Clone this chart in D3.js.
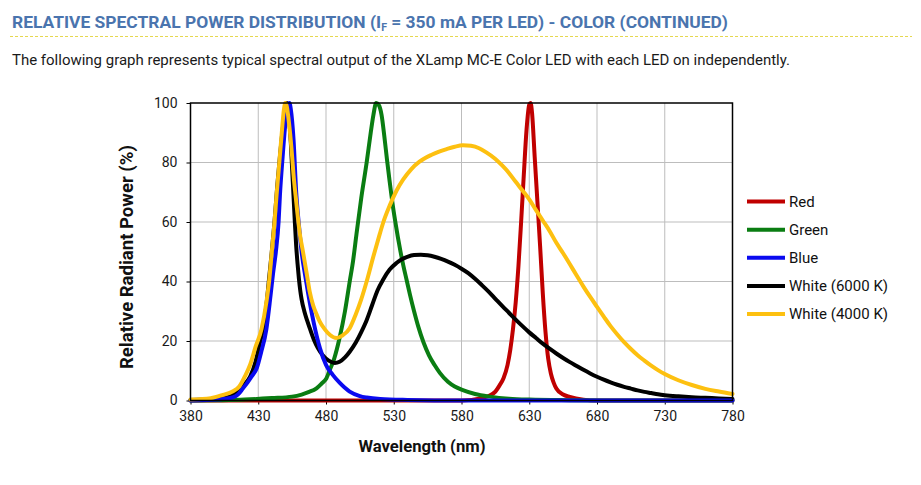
<!DOCTYPE html>
<html>
<head>
<meta charset="utf-8">
<script src="https://cdn.jsdelivr.net/npm/d3@7"></script>
<style>
  html, body { margin: 0; padding: 0; background: #fff; }
  svg { display: block; font-family: Roboto, "Noto Sans", sans-serif; }
</style>
</head>
<body>
<svg id="chart" width="921" height="485"></svg>
<script>
// ---------- data ----------
const xTicks = [380, 430, 480, 530, 580, 630, 680, 730, 780];
const yTicks = [0, 20, 40, 60, 80, 100];
const seriesNames = ["Red", "Green", "Blue", "White (6000 K)", "White (4000 K)"];
const seriesColors = ["#C00000", "#0A7D12", "#0A0AF0", "#000000", "#FDC010"];

const red = [[380,0],[580,0],[595,0.8],[600,1.5],[605,3],[608,5],[611,7.5],[614,12],[616,17],[618,24],[620,33],[622,45],[624,60],[626,76],[628,91],[630,99.5],[631,100],[632,97],[634,82],[636,67],[638,52],[640,36],[642,23],[644,14],[646,9],[648,6],[650,4],[655,2],[660,1.2],[670,0.3],[680,0],[780,0]];

const green = [[380,0],[400,0.1],[420,0.3],[440,0.8],[455,1.3],[462,2],[467,2.8],[473,4.1],[477,5.8],[480,7.2],[483,10.5],[486,14],[490,21],[494,30],[497.5,40],[500,47],[502.5,56],[506,68],[510,80],[513,90],[515,96],[517,100],[519,99.3],[521,96],[523,89],[525,81],[527,73.5],[529,66.5],[531,60.5],[533,55],[535,50],[537,45.5],[539.5,40.5],[542,35.5],[545,30],[548,25],[552,19.5],[556,15.2],[560,12],[564,9.3],[570,6.3],[575,4.7],[581,3.5],[590,2.2],[601,1.3],[615,0.6],[630,0.3],[660,0.1],[700,0],[780,0]];

const blue = [[380,0],[400,0.3],[405,0.6],[411,1],[415,2],[418.6,4],[422,6],[425,8],[429,11],[432,16],[436,24],[439,35],[441,43],[443,50],[445,60],[446,69],[448,82],[450,93],[452,99],[453,100],[454,98],[456,88],[458,70],[460,59],[462,50],[465,41],[468,33],[471,26],[475.5,17.6],[480,12],[485,8.6],[490,6],[497.5,3],[505,1.5],[510,1],[520,0.5],[540,0.2],[580,0],[780,0]];

const white6000 = [[380,0.2],[395,0.4],[405,0.8],[413,2.5],[419,5],[424,8],[428,13],[431,19],[433.5,24],[436,32],[438,41],[440,50],[442,60],[444,72],[446,82],[448,91],[450,98],[451,100],[452,99],[453,94],[454,87],[455,78],[456,69],[457,60],[458,52],[459,46],[460,41],[461,37],[462,34],[464,30],[466,27],[468,24.3],[471,20.5],[474,17.6],[477.6,15.2],[482,13.4],[486.5,12.6],[490,13],[494,14.5],[497.5,16.4],[502,19.5],[506,23],[510,27],[514,32],[518,37],[522,40.5],[527,44],[532,46.2],[536,47.5],[540,48.3],[545,48.9],[550,49],[555,48.8],[560,48.3],[565,47.6],[570,46.7],[575,45.6],[580,44.3],[585,42.8],[590,40.9],[595,38.8],[600,36.6],[605,34.2],[610,31.8],[615,29.5],[620,27.2],[625,25],[630,22.9],[635,21],[640,19.1],[645,17.4],[650,15.8],[655,14.3],[660,12.9],[665,11.6],[670,10.3],[675,9.1],[680,8],[685,7],[690,6.1],[695,5.3],[700,4.6],[705,4],[710,3.4],[715,2.9],[720,2.5],[725,2.1],[730,1.8],[740,1.4],[750,1.1],[760,0.9],[770,0.7],[780,0.5]];

const white4000 = [[380,0.3],[395,0.8],[404,1.9],[411,3],[416,4.7],[420,8],[424,12],[428,18],[432.4,24],[436,33],[438,40],[440,50],[442,60],[443.5,69],[445,77],[447,88],[449,98],[450,100],[451,99],[453,92],[455,82],[456,76],[458,67],[460.7,56],[463,50],[466,42],[468,36.5],[470.5,32],[473,29],[475.4,26.5],[479,24],[483,22],[487.7,21],[492,21.8],[497.5,24.3],[502,29],[506,34],[510,40],[515,48.5],[519.7,56],[522,59.5],[527,65.5],[532,70.5],[537,74.3],[543,77.8],[549,80.3],[552,81.2],[558,82.6],[563,83.6],[569,84.5],[575,85.3],[581,85.8],[587,85.6],[593,84.8],[598,83.5],[605,81.2],[610,79],[615,76.5],[620,73.5],[625,70.6],[630,67.6],[635,64],[640,60.5],[645,57],[650,53],[655,49.5],[660,45.8],[665,42],[670,38.3],[675,34.8],[680,31.5],[685,28.2],[690,25],[695,22.2],[700,19.6],[705,17.3],[710,15.2],[715,13.4],[720,11.7],[725,10.2],[730,8.9],[740,6.8],[750,5.2],[760,3.9],[770,3],[780,2.2]];

const seriesData = [red, green, blue, white6000, white4000];
const drawOrder = [0, 1, 3, 2, 4];

// ---------- layout ----------
const svg = d3.select("#chart");
const plot = { left: 190.5, right: 732.5, top: 103, bottom: 400.5 };

const x = d3.scaleLinear().domain([380, 780]).range([plot.left, plot.right]);
const y = d3.scaleLinear().domain([0, 100]).range([plot.bottom, plot.top]);

// Title
const title = svg.append("text")
  .attr("x", 12).attr("y", 28)
  .attr("fill", "#4A74AE")
  .attr("font-weight", "bold")
  .attr("font-size", 16.5)
  .attr("textLength", 716)
  .attr("lengthAdjust", "spacingAndGlyphs");
title.append("tspan").text("RELATIVE SPECTRAL POWER DISTRIBUTION (I");
title.append("tspan").attr("font-size", 10).attr("dy", 3).text("F");
title.append("tspan").attr("dy", -3).text(" = 350 mA PER LED) - COLOR (CONTINUED)");

svg.append("line")
  .attr("x1", 10).attr("x2", 912).attr("y1", 36.5).attr("y2", 36.5)
  .attr("stroke", "#E6D84E").attr("stroke-width", 1)
  .attr("stroke-dasharray", "3,2");

svg.append("text")
  .attr("x", 12).attr("y", 65)
  .attr("fill", "#1a1a1a")
  .attr("font-size", 14)
  .attr("textLength", 778)
  .attr("lengthAdjust", "spacingAndGlyphs")
  .text("The following graph represents typical spectral output of the XLamp MC-E Color LED with each LED on independently.");

// Grid
const grid = svg.append("g");
grid.selectAll("line.v").data(xTicks.slice(1, -1)).join("line")
  .attr("x1", d => x(d)).attr("x2", d => x(d))
  .attr("y1", plot.top).attr("y2", plot.bottom)
  .attr("stroke", "#BDBDBD").attr("stroke-width", 1);
grid.selectAll("line.h").data(yTicks.slice(1, -1)).join("line")
  .attr("x1", plot.left).attr("x2", plot.right)
  .attr("y1", d => y(d)).attr("y2", d => y(d))
  .attr("stroke", "#BDBDBD").attr("stroke-width", 1);

// Axes
const xAxis = svg.append("g")
  .attr("transform", `translate(0,${plot.bottom})`)
  .call(d3.axisBottom(x).tickValues(xTicks).tickSize(4).tickSizeOuter(0).tickPadding(7));
const yAxis = svg.append("g")
  .attr("transform", `translate(${plot.left},0)`)
  .call(d3.axisLeft(y).tickValues(yTicks).tickSize(4).tickSizeOuter(0).tickPadding(9));
[xAxis, yAxis].forEach(a => {
  a.select(".domain").remove();
  a.selectAll(".tick line").attr("stroke", "#000").attr("stroke-width", 1);
  a.selectAll(".tick text").attr("fill", "#1a1a1a").attr("font-size", 14)
    .attr("font-family", "Roboto, 'Noto Sans', sans-serif");
});

// Series lines
const line = d3.line().x(d => x(d[0])).y(d => y(d[1])).curve(d3.curveMonotoneX);
const lines = svg.append("g").attr("fill", "none")
  .attr("stroke-linejoin", "round").attr("stroke-linecap", "round");
drawOrder.forEach(i => {
  lines.append("path")
    .datum(seriesData[i])
    .attr("d", line)
    .attr("stroke", seriesColors[i])
    .attr("stroke-width", 4);
});

// Plot border
svg.append("rect")
  .attr("x", plot.left).attr("y", plot.top)
  .attr("width", plot.right - plot.left).attr("height", plot.bottom - plot.top)
  .attr("fill", "none").attr("stroke", "#000").attr("stroke-width", 1.5);

// Axis titles
svg.append("text")
  .attr("transform", `translate(133,257) rotate(-90)`)
  .attr("text-anchor", "middle")
  .attr("font-weight", "bold").attr("font-size", 18)
  .attr("fill", "#111")
  .attr("textLength", 224)
  .attr("lengthAdjust", "spacingAndGlyphs")
  .text("Relative Radiant Power (%)");
svg.append("text")
  .attr("x", 422).attr("y", 452)
  .attr("text-anchor", "middle")
  .attr("font-weight", "bold").attr("font-size", 17)
  .attr("fill", "#111")
  .attr("textLength", 127)
  .attr("lengthAdjust", "spacingAndGlyphs")
  .text("Wavelength (nm)");

// Legend
const legendY = d3.scalePoint().domain(seriesNames).range([201.5, 314]);
const legend = svg.append("g");
seriesNames.forEach((name, i) => {
  legend.append("line")
    .attr("x1", 747).attr("x2", 785)
    .attr("y1", legendY(name)).attr("y2", legendY(name))
    .attr("stroke", seriesColors[i]).attr("stroke-width", 4);
  legend.append("text")
    .attr("x", 789).attr("y", legendY(name))
    .attr("dy", "0.35em")
    .attr("font-size", 15).attr("fill", "#111")
    .text(name);
});
</script>
</body>
</html>
